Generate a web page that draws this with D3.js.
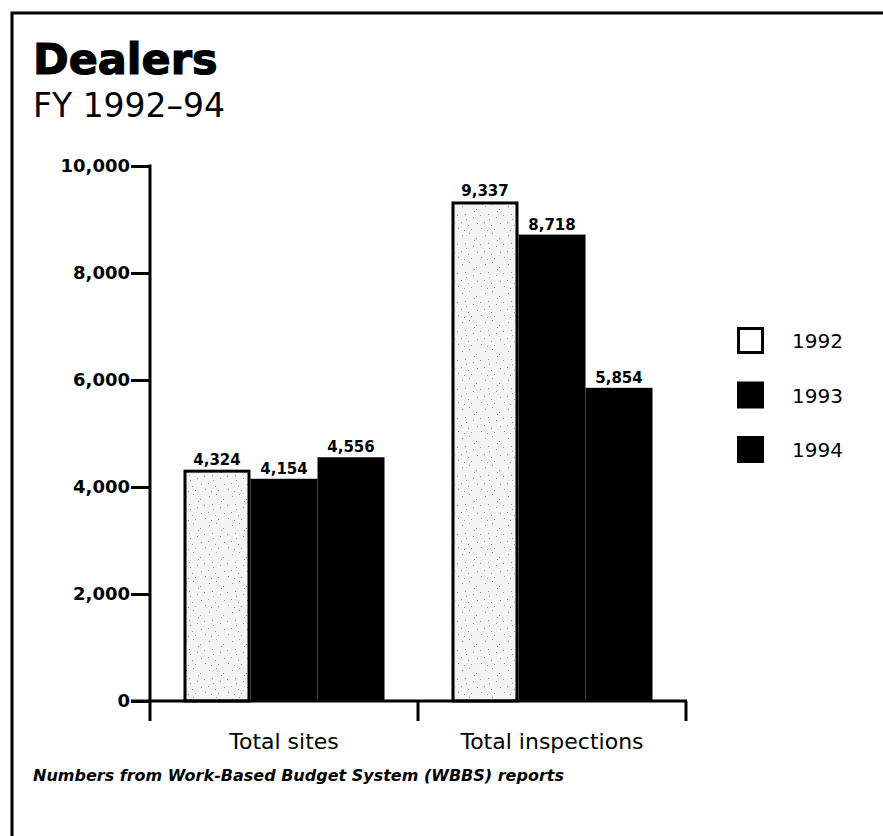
<!DOCTYPE html>
<html>
<head>
<meta charset="utf-8">
<script src="https://cdn.jsdelivr.net/npm/d3@7"></script>
<style>
  html, body { margin: 0; padding: 0; background: #fff; }
  svg { display: block; }
</style>
</head>
<body>
<script>
const categories = ["Total sites", "Total inspections"];
const years = ["1992", "1993", "1994"];
const values1992 = [4324, 9337];
const values1993 = [4154, 8718];
const values1994 = [4556, 5854];
const yTicks = [0, 2000, 4000, 6000, 8000, 10000];

const W = 883, H = 836;
const svg = d3.select("body").append("svg").attr("width", W).attr("height", H);

// stipple pattern for 1992
const defs = svg.append("defs");
const pat = defs.append("pattern").attr("id", "stip").attr("patternUnits", "userSpaceOnUse")
  .attr("width", 23).attr("height", 29);
pat.append("rect").attr("width", 23).attr("height", 29).attr("fill", "#f4f4f4");
const dots = [[2,3],[9,1],[16,6],[5,11],[13,14],[20,12],[1,19],[8,22],[17,20],[11,26],[21,25],[4,27],[14,8],[6,16]];
dots.forEach(([x,y]) => pat.append("rect").attr("x", x).attr("y", y).attr("width", 1).attr("height", 1).attr("fill", "#a0a0a0"));

// frame
svg.append("path").attr("d", `M12,836 L12,13 L883,13`).attr("fill", "none").attr("stroke", "#000").attr("stroke-width", 3);

// titles
svg.append("text").attr("x", 33).attr("y", 74).text("Dealers")
  .attr("font-family", "DejaVu Sans").attr("font-weight", "bold").attr("font-size", 43)
  .attr("stroke", "#000").attr("stroke-width", 1.2);
svg.append("text").attr("x", 33).attr("y", 117).text("FY 1992\u201394")
  .attr("font-family", "DejaVu Sans").attr("font-size", 33);

const y = d3.scaleLinear().domain([0, 10000]).range([701, 166]);
const x0 = d3.scaleBand().domain(categories).range([150, 686]).padding(0);
const bw = x0.bandwidth();
const x1 = d3.scaleBand().domain(years).range([bw * 0.125, bw * 0.875]).padding(0);

const series = { "1992": values1992, "1993": values1993, "1994": values1994 };
const data = [];
categories.forEach((c, i) => years.forEach(yr => data.push({ cat: c, year: yr, v: series[yr][i] })));

const g = svg.append("g");
g.selectAll("rect.bar").data(data).join("rect").attr("class", "bar")
  .attr("x", d => x0(d.cat) + x1(d.year) + (d.year === "1992" ? 1.5 : 0))
  .attr("y", d => y(d.v) + (d.year === "1992" ? 1.5 : 0))
  .attr("width", d => x1.bandwidth() - (d.year === "1992" ? 3 : 0))
  .attr("height", d => y(0) - y(d.v) - (d.year === "1992" ? 1.5 : 0))
  .attr("fill", d => d.year === "1992" ? "url(#stip)" : "#000")
  .attr("stroke", d => d.year === "1992" ? "#000" : "none")
  .attr("stroke-width", 3);

g.selectAll("text.val").data(data).join("text").attr("class", "val")
  .attr("x", d => x0(d.cat) + x1(d.year) + x1.bandwidth() / 2)
  .attr("y", d => y(d.v) - 5)
  .attr("text-anchor", "middle")
  .attr("font-family", "DejaVu Sans").attr("font-weight", "bold").attr("font-size", 15)
  .text(d => d3.format(",")(d.v));

// y axis
const yAxis = svg.append("g").attr("transform", "translate(150,0)")
  .call(d3.axisLeft(y).tickValues(yTicks).tickSize(19).tickPadding(1).tickFormat(d3.format(",")));
yAxis.select(".domain").remove();
yAxis.selectAll(".tick line").attr("stroke-width", 3);
yAxis.selectAll(".tick text").attr("font-family", "DejaVu Sans").attr("font-weight", "bold")
  .attr("font-size", 18).attr("fill", "#000");
svg.append("line").attr("x1", 150).attr("x2", 150).attr("y1", y(10000) - 1.5).attr("y2", 721)
  .attr("stroke", "#000").attr("stroke-width", 3);

// x axis baseline and separators
svg.append("line").attr("x1", 131).attr("x2", 687).attr("y1", y(0)).attr("y2", y(0))
  .attr("stroke", "#000").attr("stroke-width", 3);
const xAxis = svg.append("g").attr("transform", `translate(0,${y(0)})`)
  .call(d3.axisBottom(x0).tickSize(0).tickPadding(32));
xAxis.select(".domain").remove();
xAxis.selectAll(".tick text").attr("font-family", "DejaVu Sans").attr("font-size", 22).attr("fill", "#000");
const seps = categories.map(c => x0(c) + bw);
svg.selectAll("line.sep").data(seps).join("line").attr("class", "sep")
  .attr("x1", d => d).attr("x2", d => d).attr("y1", y(0)).attr("y2", y(0) + 20)
  .attr("stroke", "#000").attr("stroke-width", 3);

// legend
const leg = svg.append("g").attr("transform", "translate(737,327)");
years.forEach((yr, i) => {
  const r = leg.append("rect").attr("y", i * 54.5).attr("width", 27).attr("height", 27);
  if (yr === "1992") r.attr("x", 1.5).attr("y", 1.5).attr("width", 24).attr("height", 24).attr("fill", "#fff").attr("stroke", "#000").attr("stroke-width", 3);
  else r.attr("fill", "#000");
  leg.append("text").attr("x", 55).attr("y", i * 54.5 + 21).text(yr)
    .attr("font-family", "DejaVu Sans").attr("font-size", 20).attr("fill", "#000");
});

// footnote
svg.append("text").attr("x", 33).attr("y", 781)
  .text("Numbers from Work-Based Budget System (WBBS) reports")
  .attr("font-family", "DejaVu Sans").attr("font-style", "italic").attr("font-weight", "bold")
  .attr("font-size", 16);
</script>
</body>
</html>
